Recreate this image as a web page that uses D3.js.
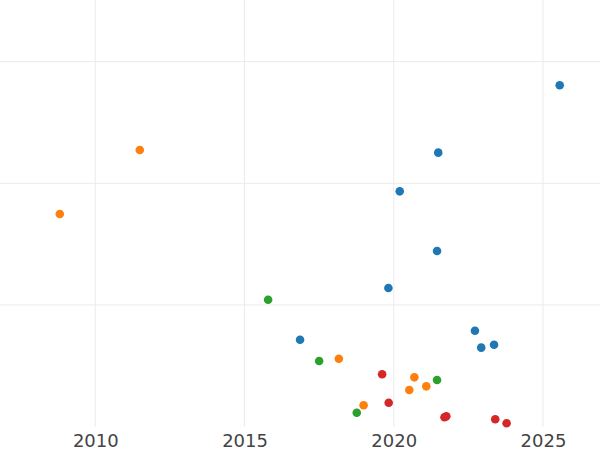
<!DOCTYPE html>
<html>
<head>
<meta charset="utf-8">
<script src="https://cdn.jsdelivr.net/npm/d3@7"></script>
<style>
  html, body { margin: 0; padding: 0; background: #fff; }
  svg { display: block; }
</style>
</head>
<body>
<svg id="chart" width="600" height="450"></svg>
<script>
// ---- data ----
const seriesNames = ["A", "B", "C", "D"];
const colors = ["#1f77b4", "#ff7f0e", "#2ca02c", "#d62728"];

const blueYears  = [2025.56, 2021.49, 2020.20, 2021.45, 2019.82, 2016.86, 2022.72, 2022.93, 2023.36];
const blueValues = [28.06, 22.52, 19.34, 14.43, 11.39, 7.14, 7.88, 6.49, 6.73];

const orangeYears  = [2011.49, 2008.81, 2018.16, 2020.69, 2020.52, 2021.09, 2018.99];
const orangeValues = [22.74, 17.48, 5.58, 4.05, 3.01, 3.31, 1.75];

const greenYears  = [2015.79, 2017.50, 2021.45, 2018.76];
const greenValues = [10.43, 5.39, 3.83, 1.14];

const redYears  = [2019.61, 2019.83, 2021.70, 2021.76, 2023.40, 2023.78];
const redValues = [4.30, 1.96, 0.77, 0.85, 0.60, 0.27];

const xTicks = [2010, 2015, 2020, 2025];
const yGrid = [10, 20, 30];

// ---- build ----
const series = [
  {years: blueYears, values: blueValues},
  {years: orangeYears, values: orangeValues},
  {years: greenYears, values: greenValues},
  {years: redYears, values: redValues}
];
const points = [];
series.forEach((s, i) => s.years.forEach((yr, j) => points.push({x: yr, y: s.values[j], c: colors[i], name: seriesNames[i]})));

const svg = d3.select("#chart");
const plotBottom = 426.6;
const pxPerYear = (543 - 95.3) / 15;
const x = d3.scaleLinear()
  .domain([2010 - 95.3 / pxPerYear, 2010 + (600 - 95.3) / pxPerYear])
  .range([0, 600]);
const pxPerUnit = 121.65 / 10;
const y = d3.scaleLinear()
  .domain([0, plotBottom / pxPerUnit])
  .range([plotBottom, 0]);

// grid
const grid = svg.append("g");
grid.selectAll("line.v").data(xTicks).join("line")
  .attr("class", "v")
  .attr("x1", d => x(d)).attr("x2", d => x(d))
  .attr("y1", 0).attr("y2", plotBottom)
  .attr("stroke", "#ebebeb").attr("stroke-width", 1);
grid.selectAll("line.h").data(yGrid).join("line")
  .attr("class", "h")
  .attr("x1", 0).attr("x2", 600)
  .attr("y1", d => y(d)).attr("y2", d => y(d))
  .attr("stroke", "#ebebeb").attr("stroke-width", 1);

// x axis labels
const xAxis = d3.axisBottom(x).tickValues(xTicks).tickFormat(d3.format("d")).tickSize(0).tickPadding(0);
const ax = svg.append("g").attr("transform", `translate(0,${plotBottom})`).call(xAxis);
ax.select(".domain").remove();
ax.selectAll("text")
  .attr("dy", null)
  .attr("y", 20.5)
  .attr("fill", "#444")
  .style("font-family", "'DejaVu Sans', sans-serif")
  .style("font-size", "18px");

// points
svg.append("g").selectAll("circle").data(points).join("circle")
  .attr("cx", d => x(d.x))
  .attr("cy", d => y(d.y))
  .attr("r", 4.3)
  .attr("fill", d => d.c);
</script>
</body>
</html>
